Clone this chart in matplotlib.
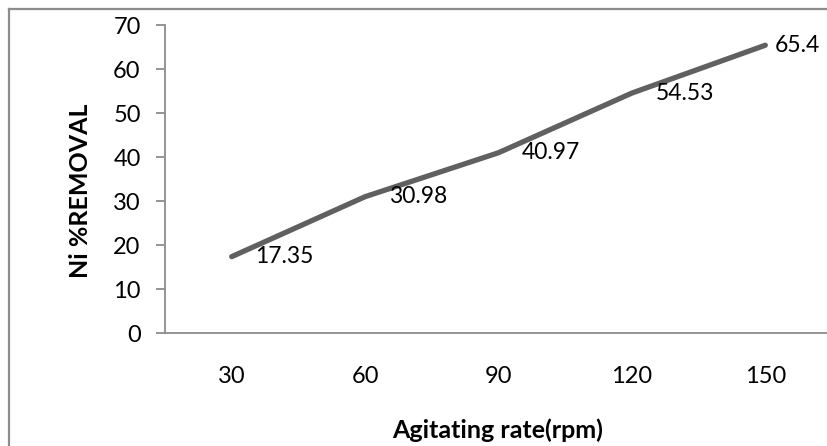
import matplotlib
matplotlib.use("Agg")
import matplotlib.pyplot as plt
from matplotlib.lines import Line2D

categories = ["30", "60", "90", "120", "150"]
removal = [17.35, 30.98, 40.97, 54.53, 65.4]
labels = ["17.35", "30.98", "40.97", "54.53", "65.4"]
yticks = [0, 10, 20, 30, 40, 50, 60, 70]

W, H = 828, 446
plt.rcParams['font.family'] = ['Lato', 'DejaVu Sans']
fig = plt.figure(figsize=(W / 100, H / 100), dpi=100)

left, right, top, bottom = 165, 832, 25, 333
ax = fig.add_axes([left / W, 1 - bottom / H, (right - left) / W, (bottom - top) / H])

x = list(range(len(categories)))
ax.plot(x, removal, color='#606060', lw=3.8, solid_capstyle='round')
# label offsets (points): the last label is pulled in to stay inside the chart
label_dx = [17, 17, 17, 17, 7]
for xi, yi, lab, dx in zip(x, removal, labels, label_dx):
    ax.annotate(lab, (xi, yi), xytext=(dx, 0), textcoords='offset points',
                ha='left', va='center', fontsize=16.5, color='black')

ax.set_xlim(-0.5, 4.5)
ax.set_ylim(0, 70)
ax.set_yticks(yticks)
ax.set_xticks(x)
ax.set_xticklabels(categories)
for s in ['top', 'right']:
    ax.spines[s].set_visible(False)
for s in ['left', 'bottom']:
    ax.spines[s].set_color('#8c8c8c')
    ax.spines[s].set_linewidth(1.3)
ax.tick_params(axis='y', length=6.5, width=1.3, color='#8c8c8c', labelsize=17, pad=11)
ax.tick_params(axis='x', length=0, labelsize=17, pad=24)

fig.text(81 / W, 1 - 191 / H, 'Ni %REMOVAL', rotation=90, ha='center', va='center',
         fontsize=18, fontweight='bold')
fig.text(498 / W, 1 - 430 / H, 'Agitating rate(rpm)', ha='center', va='center',
         fontsize=18, fontweight='bold')

# outer chart frame (only left and top visible, rest cropped)
fig.add_artist(Line2D([9 / W, 9 / W], [0, 1 - 9 / H], color='#8c8c8c', lw=1.6, transform=fig.transFigure))
fig.add_artist(Line2D([9 / W, 1], [1 - 9 / H, 1 - 9 / H], color='#8c8c8c', lw=1.6, transform=fig.transFigure))

fig.savefig('out.png', dpi=100)
